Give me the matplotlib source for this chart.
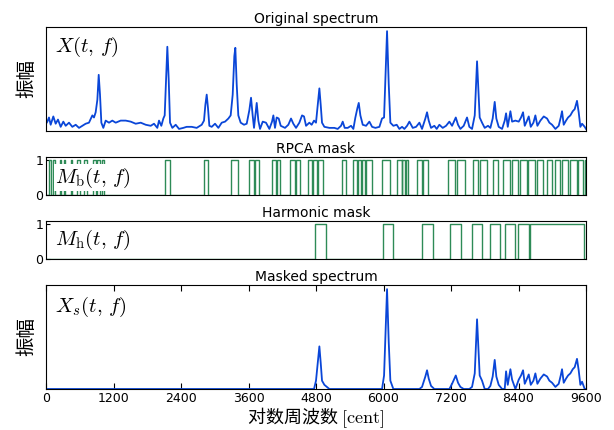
# 原始频谱 / RPCA 掩码 / 谐波掩码 / 掩码后频谱
import matplotlib
matplotlib.use('Agg')
import matplotlib.pyplot as plt
import numpy as np

plt.rcParams['mathtext.fontset'] = 'cm'
plt.rcParams['font.family'] = ['DejaVu Sans', 'Noto Sans CJK SC']

# 对数周波数 [cent] と振幅
spec_cent = [
    0, 24, 53, 83, 130, 172, 213, 261, 308, 350, 409, 468, 528, 587, 646, 705,
    764, 824, 853, 883, 913, 937, 960, 984, 1019, 1061, 1120, 1179, 1239, 1328,
    1417, 1506, 1595, 1684, 1773, 1862, 1920, 1979, 2009, 2050, 2086, 2110, 2134,
    2157, 2181, 2205, 2246, 2306, 2365, 2441, 2501, 2590, 2679, 2768, 2809, 2833,
    2857, 2880, 2904, 2946, 3005, 3064, 3124, 3183, 3242, 3283, 3319, 3348, 3366,
    3390, 3419, 3461, 3520, 3568, 3615, 3645, 3674, 3698, 3722, 3746, 3775, 3805,
    3853, 3911, 3971, 4018, 4042, 4071, 4101, 4137, 4173, 4249, 4308, 4356, 4397,
    4445, 4504, 4552, 4587, 4623, 4682, 4723, 4765, 4800, 4830, 4860, 4884, 4907,
    4949, 5038, 5126, 5186, 5245, 5275, 5310, 5364, 5423, 5464, 5500, 5536, 5560,
    5589, 5631, 5690, 5749, 5797, 5856, 5927, 5974, 6010, 6033, 6063, 6093, 6122,
    6175, 6235, 6282, 6330, 6371, 6419, 6460, 6520, 6579, 6638, 6685, 6744, 6774,
    6804, 6845, 6904, 6946, 6993, 7053, 7112, 7171, 7219, 7260, 7285, 7325, 7367,
    7426, 7485, 7526, 7574, 7622, 7645, 7663, 7686, 7710, 7752, 7799, 7858, 7900,
    7941, 7977, 8006, 8048, 8108, 8155, 8179, 8209, 8256, 8286, 8345, 8404, 8445,
    8481, 8511, 8552, 8582, 8618, 8665, 8700, 8736, 8789, 8849, 8908, 8949, 8997,
    9056, 9115, 9151, 9174, 9204, 9245, 9281, 9322, 9364, 9399, 9440, 9470, 9500,
    9530, 9577, 9600]
spec_amp = [
    0.07, 0.09, 0.13, 0.06, 0.14, 0.07, 0.11, 0.04, 0.09, 0.05, 0.08, 0.04, 0.06,
    0.03, 0.05, 0.07, 0.08, 0.15, 0.13, 0.18, 0.30, 0.54, 0.35, 0.08, 0.03, 0.10,
    0.08, 0.10, 0.08, 0.10, 0.10, 0.09, 0.07, 0.08, 0.06, 0.05, 0.07, 0.03, 0.10,
    0.05, 0.12, 0.15, 0.50, 0.81, 0.50, 0.08, 0.03, 0.06, 0.02, 0.03, 0.04, 0.04,
    0.03, 0.06, 0.10, 0.25, 0.35, 0.22, 0.05, 0.04, 0.07, 0.03, 0.08, 0.09, 0.12,
    0.15, 0.35, 0.72, 0.80, 0.45, 0.15, 0.08, 0.06, 0.07, 0.20, 0.32, 0.15, 0.03,
    0.15, 0.27, 0.10, 0.02, 0.09, 0.08, 0.02, 0.09, 0.15, 0.03, 0.13, 0.12, 0.05,
    0.03, 0.06, 0.12, 0.07, 0.03, 0.08, 0.15, 0.14, 0.05, 0.08, 0.06, 0.10, 0.08,
    0.25, 0.41, 0.25, 0.08, 0.04, 0.03, 0.03, 0.02, 0.05, 0.09, 0.03, 0.03, 0.05,
    0.02, 0.13, 0.22, 0.27, 0.15, 0.06, 0.05, 0.09, 0.04, 0.03, 0.04, 0.12, 0.13,
    0.50, 0.96, 0.45, 0.08, 0.05, 0.06, 0.02, 0.04, 0.02, 0.05, 0.09, 0.03, 0.04,
    0.08, 0.02, 0.12, 0.18, 0.10, 0.03, 0.05, 0.02, 0.06, 0.03, 0.05, 0.09, 0.05,
    0.10, 0.13, 0.06, 0.02, 0.05, 0.13, 0.04, 0.02, 0.15, 0.45, 0.67, 0.40, 0.13,
    0.08, 0.03, 0.05, 0.03, 0.12, 0.28, 0.12, 0.04, 0.02, 0.10, 0.17, 0.04, 0.19,
    0.09, 0.10, 0.09, 0.13, 0.18, 0.05, 0.10, 0.14, 0.04, 0.08, 0.15, 0.05, 0.10,
    0.14, 0.12, 0.08, 0.06, 0.02, 0.05, 0.13, 0.19, 0.06, 0.10, 0.13, 0.15, 0.19,
    0.21, 0.29, 0.18, 0.04, 0.07, 0.04, 0.02]

# RPCA マスク: 1 になる区間 [cent]
rpca_on = [
    (53, 83), (124, 160), (243, 260), (320, 338), (438, 456), (557, 604),
    (676, 735), (841, 883), (901, 960), (1000, 1031), (2110, 2204),
    (2815, 2886), (3283, 3419), (3609, 3698), (3710, 3793), (4012, 4083),
    (4101, 4160), (4338, 4427), (4445, 4516), (4664, 4723), (4741, 4813),
    (4830, 4931), (5257, 5334), (5458, 5530), (5545, 5600), (5615, 5672),
    (5680, 5790), (5968, 6116), (6235, 6324), (6335, 6380), (6395, 6441),
    (6590, 6680), (6708, 6797), (7153, 7272), (7302, 7450), (7597, 7686),
    (7716, 7835), (7953, 8042), (8131, 8250), (8279, 8398), (8428, 8546),
    (8575, 8694), (8724, 8842), (8901, 8990), (9050, 9139), (9168, 9287),
    (9317, 9435), (9465, 9554), (9575, 9600)]

# 調波マスク: 1 になる区間 [cent]
harm_on = [
    (4787, 4977), (5988, 6171), (6682, 6878), (7188, 7377), (7567, 7756),
    (7895, 8072), (8160, 8337), (8388, 8590), (8609, 9556)]

xticks = [0, 1200, 2400, 3600, 4800, 6000, 7200, 8400, 9600]

blue = '#0a46d8'
green = '#2e8b57'


def mask_line(intervals):
    # 区間リストから矩形波の折れ線を作る
    xs, ys = [0], [0]
    for a, b in intervals:
        xs += [a, a, b, b]
        ys += [0, 1, 1, 0]
    xs.append(9600)
    ys.append(0)
    return xs, ys


def in_mask(c, intervals):
    return any(a <= c <= b for a, b in intervals)


cent = np.array(spec_cent)
amp = np.array(spec_amp)
masked = np.array([v if in_mask(c, harm_on) else 0.0 for c, v in zip(spec_cent, spec_amp)])

fig = plt.figure(figsize=(6.14, 4.30), dpi=100)
L, W = 46 / 614, 540 / 614


def add_ax(top, bottom):
    return fig.add_axes([L, (430 - bottom) / 430, W, (bottom - top) / 430])


ax1 = add_ax(27, 131)
ax2 = add_ax(157, 195)
ax3 = add_ax(221, 259)
ax4 = add_ax(285, 389)

cjk = ['Noto Sans CJK SC', 'DejaVu Sans']
lab_box = dict(facecolor='white', edgecolor='none', pad=1)

# 原始频谱
ax1.plot(cent, amp, color=blue, lw=1.3)
ax1.set_ylim(0, 1)
ax1.set_title('Original spectrum', fontsize=10, pad=3)
ax1.set_ylabel('振幅', family=cjk, fontsize=14, labelpad=6)
ax1.text(0.017, 0.81, r'$X(t,\,f)$', transform=ax1.transAxes, fontsize=15,
         va='center', ha='left')
ax1.set_xticks([])
ax1.set_yticks([])

# RPCA mask
x2, y2 = mask_line(rpca_on)
ax2.plot(x2, y2, color=green, lw=1.0)
ax2.set_ylim(0, 1.1)
ax2.set_title('RPCA mask', fontsize=10, pad=3)
ax2.text(0.017, 0.45, r'$M_{\rm b}(t,\,f)$', transform=ax2.transAxes, fontsize=15,
         va='center', ha='left', bbox=lab_box, zorder=5)
ax2.set_xticks([])

# Harmonic mask
x3, y3 = mask_line(harm_on)
ax3.plot(x3, y3, color=green, lw=1.0)
ax3.set_ylim(0, 1.1)
ax3.set_title('Harmonic mask', fontsize=10, pad=3)
ax3.text(0.017, 0.5, r'$M_{\rm h}(t,\,f)$', transform=ax3.transAxes, fontsize=15,
         va='center', ha='left', bbox=lab_box, zorder=5)
ax3.set_xticks([])

for ax in (ax2, ax3):
    ax.set_yticks([0, 1])
    ax.tick_params(axis='y', direction='in', labelsize=9, length=3, pad=2)

# Masked spectrum
ax4.plot(cent, masked, color=blue, lw=1.3)
ax4.set_ylim(0, 1)
ax4.set_title('Masked spectrum', fontsize=10, pad=3)
ax4.set_ylabel('振幅', family=cjk, fontsize=14, labelpad=6)
ax4.text(0.017, 0.79, r'$X_s(t,\,f)$', transform=ax4.transAxes, fontsize=15,
         va='center', ha='left')
ax4.set_yticks([])
ax4.set_xticks(xticks)
ax4.tick_params(axis='x', direction='in', top=True, labelsize=9, length=4, pad=2)
ax4.set_xlabel(r'对数周波数 $[\mathrm{cent}]$', family=cjk, fontsize=13, va='center')
ax4.xaxis.set_label_coords(0.5, -0.275)

for ax in (ax1, ax2, ax3, ax4):
    ax.set_xlim(0, 9600)

fig.savefig('out.png', dpi=100)
